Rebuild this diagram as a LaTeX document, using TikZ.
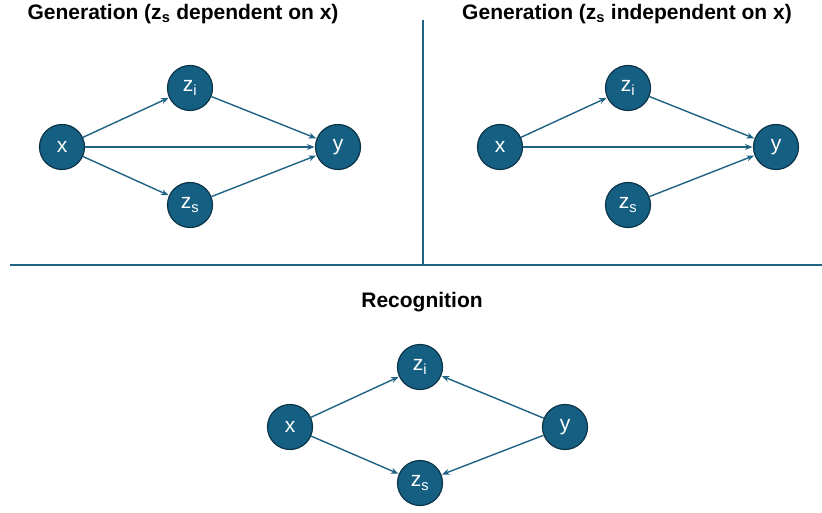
\documentclass[tikz,border=0pt]{standalone}
\usepackage{fontspec}
\setmainfont{Liberation Sans}
\usetikzlibrary{arrows.meta}
\definecolor{nodeblue}{RGB}{21,96,130}
\definecolor{edgeblue}{RGB}{12,52,72}
\definecolor{arrowblue}{RGB}{30,98,132}

\begin{document}
\begin{tikzpicture}[
				x=1pt, y=-1pt,
				var/.style={circle, minimum size=45pt, inner sep=0pt, draw=edgeblue, line width=1.2pt, fill=nodeblue, text=white, font=\fontsize{21}{24}\selectfont},
				arrow/.style={-{Stealth[length=7.5pt,width=6pt]}, line width=1.4pt, color=arrowblue, shorten >=0.5pt},
				title/.style={font=\fontsize{21}{25}\selectfont\bfseries, text=black},
				sep/.style={line width=1.2pt, color=arrowblue}
			]
			\useasboundingbox (0,0) rectangle (822,513);

			% Separators
			\coordinate (hl) at (10,265);
			\coordinate (hr) at (822,265);
			\coordinate (vt) at (423,20);
			\coordinate (vb) at (423,265);
			\draw [sep] (hl) -- (hr);
			\draw [sep] (vt) -- (vb);

			% Generation, z_s dependent on x
			\node (title1) [title] at (183,14) {Generation (z\textsubscript{s} dependent on x)};
			\node (x1) [var] at (62,147) {x};
			\node (zi1) [var] at (190,88) {z\textsubscript{i}};
			\node (zs1) [var] at (190,205) {z\textsubscript{s}};
			\node (y1) [var] at (338,147) {y};

			% Generation, z_s independent on x
			\node (title2) [title] at (627,14) {Generation (z\textsubscript{s} independent on x)};
			\node (x2) [var] at (500,147) {x};
			\node (zi2) [var] at (628,88) {z\textsubscript{i}};
			\node (zs2) [var] at (628,205) {z\textsubscript{s}};
			\node (y2) [var] at (776,147) {y};

			% Recognition
			\node (title3) [title] at (422,302) {Recognition};
			\node (x3) [var] at (290,427) {x};
			\node (zi3) [var] at (420,367) {z\textsubscript{i}};
			\node (zs3) [var] at (420,483) {z\textsubscript{s}};
			\node (y3) [var] at (565,427) {y};

			% Arrows
			\draw [arrow] (x1) -- (zi1);
			\draw [arrow] (x1) -- (zs1);
			\draw [arrow] (x1) -- (y1);
			\draw [arrow] (zi1) -- (y1);
			\draw [arrow] (zs1) -- (y1);

			\draw [arrow] (x2) -- (zi2);
			\draw [arrow] (x2) -- (y2);
			\draw [arrow] (zi2) -- (y2);
			\draw [arrow] (zs2) -- (y2);

			\draw [arrow] (x3) -- (zi3);
			\draw [arrow] (x3) -- (zs3);
			\draw [arrow] (y3) -- (zi3);
			\draw [arrow] (y3) -- (zs3);

		\end{tikzpicture}
\end{document}
